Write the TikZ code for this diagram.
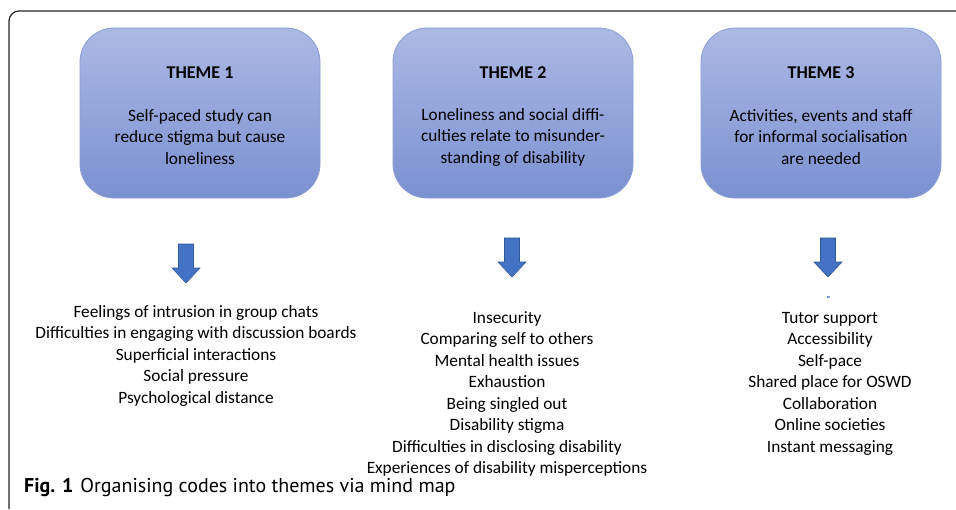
\documentclass[tikz,border=0pt]{standalone}
\usepackage{fontspec}
\setmainfont{Carlito}
\newfontfamily\captionFont{PT Sans}
\usetikzlibrary{positioning}
\definecolor{boxTop}{RGB}{172,185,227}
\definecolor{boxBottom}{RGB}{122,145,209}
\definecolor{boxEdge}{RGB}{138,158,214}
\definecolor{arrowBlue}{RGB}{68,114,196}
\definecolor{arrowEdge}{RGB}{50,88,158}

\begin{document}
\begin{tikzpicture}[x=1pt, y=-1pt,
    themebox/.style={draw=boxEdge, line width=0.8pt, rounded corners=34pt,
        top color=boxTop, bottom color=boxBottom,
        minimum width=240pt, minimum height=170pt},
    themetitle/.style={font=\fontsize{18}{22}\selectfont\bfseries},
    themetext/.style={align=center, font=\fontsize{17.3}{21.5}\selectfont},
    codelist/.style={align=center, anchor=north, inner sep=0pt,
        font=\fontsize{17.3}{21.5}\selectfont},
    blockarrow/.pic={
        \filldraw[draw=arrowEdge, fill=arrowBlue, line width=0.6pt]
        (-7.5,0) -- (7.5,0) -- (7.5,24) -- (14,24) -- (0,39)
        -- (-14,24) -- (-7.5,24) -- cycle;
    }]
    \useasboundingbox (0,0) rectangle (956,509);
    % frame (open on the right and bottom)
    \draw[line width=1.2pt, black!85, rounded corners=10pt]
        (9,509) -- (9,11) -- (956,11);

    % theme boxes
    \node[themebox] (box1) at (200,113) {};
    \node[themebox] (box2) at (513,113) {};
    \node[themebox] (box3) at (821,113) {};

    \node[themetitle] (title1) at (200,73) {THEME 1};
    \node[themetitle] (title2) at (513,73) {THEME 2};
    \node[themetitle] (title3) at (821,73) {THEME 3};

    \node[themetext] (text1) at (200,137) {Self-paced study can\\reduce stigma but cause\\loneliness};
    \node[themetext] (text2) at (513,137) {Loneliness and social diffi-\\culties relate to misunder-\\standing of disability};
    \node[themetext] (text3) at (821,137) {Activities, events and staff\\for informal socialisation\\are needed};

    % arrows
    \pic at (186,244) {blockarrow};
    \pic at (512,238) {blockarrow};
    \pic at (828,238) {blockarrow};
    \fill[arrowBlue!70] (826.5,296) rectangle (829.5,298);

    % codes
    \node[codelist] (codes1) at (196,305) {Feelings of intrusion in group chats\\
        Difficulties in engaging with discussion boards\\
        Superficial interactions\\
        Social pressure\\
        Psychological distance};
    \node[codelist] (codes2) at (507,311) {Insecurity\\
        Comparing self to others\\
        Mental health issues\\
        Exhaustion\\
        Being singled out\\
        Disability stigma\\
        Difficulties in disclosing disability\\
        Experiences of disability misperceptions};
    \node[codelist] (codes3) at (830,312) {Tutor support\\
        Accessibility\\
        Self-pace\\
        Shared place for OSWD\\
        Collaboration\\
        Online societies\\
        Instant messaging};

    \node[anchor=west, inner sep=0pt, font=\captionFont\fontsize{20}{24}\selectfont]
        (caption) at (24,487) {\textbf{Fig. 1}\hspace{7pt}Organising codes into themes via mind map};
\end{tikzpicture}
\end{document}
